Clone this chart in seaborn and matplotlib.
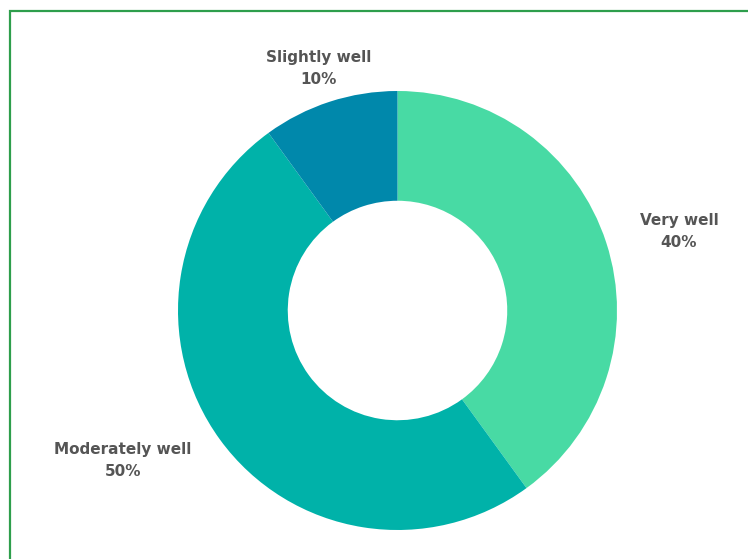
import numpy as np
import matplotlib
matplotlib.use("Agg")
import matplotlib.pyplot as plt
from matplotlib.patches import Rectangle
import seaborn as sns

# Survey responses
categories = ["Very well", "Moderately well", "Slightly well"]
shares = [40, 50, 10]
colors = ["#48daa4", "#00b2a9", "#0088ab"]

sns.set_theme(style="white")
plt.rcParams["font.family"] = ["DejaVu Sans"]

W, H, DPI = 748, 559, 100
fig = plt.figure(figsize=(W / DPI, H / DPI), dpi=DPI)
fig.patch.set_facecolor("white")

# Axes in pixel units so the donut keeps a true circle
ax = fig.add_axes([0, 0, 1, 1])
cx, cy, r = 397.5, 248.5, 219.5
wedges, _ = ax.pie(
    shares,
    colors=colors,
    startangle=90,
    counterclock=False,
    center=(cx, cy),
    radius=r,
    wedgeprops=dict(width=r * 0.5, linewidth=0),
)
ax.set_xlim(0, W)
ax.set_ylim(0, H)
ax.set_aspect("equal")
ax.axis("off")

# Outside labels at each wedge's mid-angle
label_dist = 1.16 * r
for w, name, val in zip(wedges, categories, shares):
    mid = np.deg2rad((w.theta1 + w.theta2) / 2)
    x = cx + label_dist * np.cos(mid)
    y = cy + label_dist * np.sin(mid)
    c = np.cos(mid)
    ha = "center" if abs(c) < 0.5 else ("left" if c > 0 else "right")
    ax.text(x, y, f"{name}\n{val}%", ha=ha, va="center", multialignment="center",
            fontsize=11, fontweight="bold", color="#555555", linespacing=1.6)

# Green frame running off the right and bottom edges
frame = Rectangle((9.5 / W, -0.2), 1.2, 1.2 - 10.5 / H,
                  transform=fig.transFigure, fill=False,
                  edgecolor="#2e9e4c", linewidth=1.6)
fig.patches.append(frame)

fig.savefig("out.png", dpi=DPI, facecolor="white")
